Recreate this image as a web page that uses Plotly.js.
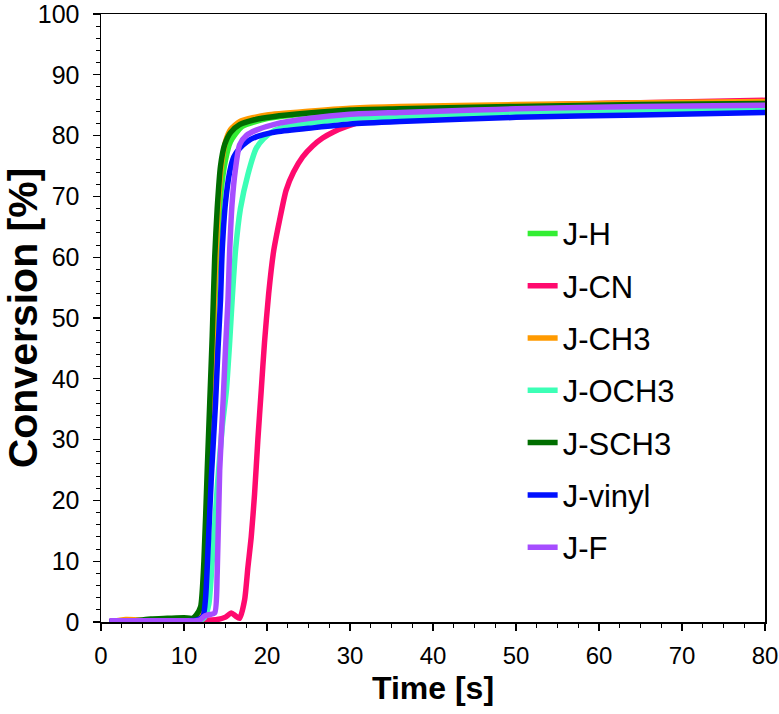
<!DOCTYPE html>
<html>
<head>
<meta charset="utf-8">
<script src="https://cdn.plot.ly/plotly-3.0.1.min.js"></script>
<style>html,body{margin:0;padding:0;background:#fff;}#chart{width:779px;height:714px;}</style>
</head>
<body>
<div id="chart"></div>
<script>
// Series names and colours
const seriesNames = ["J-H", "J-CN", "J-CH3", "J-OCH3", "J-SCH3", "J-vinyl", "J-F"];
const seriesColors = ["#33EE33", "#FF0A6E", "#FF9A00", "#3CFFB6", "#006E00", "#0010FF", "#A64DFF"];

// Time [s] and Conversion [%] for each series
const tH = [1, 4, 8, 11, 11.8, 12.3, 12.8, 13.3, 13.8, 14.4, 15.0, 15.6, 17, 20, 25, 30, 40, 50, 65, 80];
const vH = [0, 0.2, 0.3, 0.4, 1, 3, 15, 35, 55, 70, 76, 79, 81.5, 82.8, 83.6, 84.0, 84.3, 84.6, 84.9, 85.2];

const tCN = [1, 5, 10, 14, 15, 15.7, 16.2, 16.7, 17.3, 17.7, 18.1, 18.5, 18.9, 19.3, 19.7, 20.2, 20.8, 21.5, 22.3, 23.2, 24.3, 25.5, 26.7, 28, 29.6, 32.7, 36, 40, 45, 55, 65, 80];
const vCN = [0, 0.1, 0.2, 0.4, 0.8, 1.5, 1.0, 0.6, 3.6, 9, 14, 21, 30, 38, 46, 54, 61, 66, 71, 74, 76.5, 78.3, 79.6, 80.6, 81.5, 82.8, 83.4, 83.8, 84.3, 85.1, 85.4, 85.8];

const tCH3 = [1, 3, 5, 8, 11, 11.8, 12.2, 12.6, 13.0, 13.3, 13.7, 14.1, 14.5, 15.0, 15.6, 16.7, 18.5, 20, 25, 30, 36, 50, 65, 80];
const vCH3 = [0, 0.4, 0.3, 0.2, 0.3, 1, 2.5, 10, 25, 37, 55, 68, 75, 79, 81, 82.3, 83.0, 83.4, 84.0, 84.5, 84.8, 85.1, 85.4, 85.6];

const tOCH3 = [1, 5, 10, 12.0, 12.5, 13.0, 13.4, 14.0, 14.6, 15.1, 15.5, 15.8, 16.2, 16.8, 17.7, 18.7, 19.6, 20.7, 22.5, 25, 30, 36, 50, 65, 80];
const vOCH3 = [0, 0.1, 0.2, 0.3, 0.8, 3, 10, 22, 32, 38, 46, 53, 61, 68, 73.6, 77.9, 79.5, 80.7, 81.5, 82.0, 82.8, 83.1, 83.6, 84.0, 84.3];

const tSCH3 = [1, 4, 6, 8, 10, 11, 11.5, 12.0, 12.4, 12.8, 13.1, 13.4, 13.7, 14.0, 14.4, 14.9, 15.6, 16.7, 18.5, 20.7, 25, 30, 36, 50, 65, 80];
const vSCH3 = [0, 0.2, 0.5, 0.6, 0.7, 0.6, 1.2, 2.5, 10, 25, 36, 47, 60, 68, 75, 78.5, 80.5, 81.8, 82.6, 83.1, 83.7, 84.2, 84.4, 84.8, 85.1, 85.3];

const tVinyl = [1, 5, 10, 11.5, 12.3, 12.6, 12.9, 13.3, 13.8, 14.1, 14.4, 14.6, 15.0, 15.5, 16.0, 16.7, 17.6, 18.7, 21, 25, 30, 36, 50, 65, 80];
const vVinyl = [0, 0.1, 0.2, 0.3, 1, 4, 12, 24, 36, 45, 53, 61, 69, 74, 76.5, 77.9, 79.0, 79.8, 80.6, 81.2, 81.9, 82.3, 83.0, 83.4, 83.8];

const tF = [1, 5, 10, 11.5, 12.0, 12.5, 13.0, 13.7, 14.0, 14.3, 14.7, 15.0, 15.3, 15.5, 15.8, 16.2, 16.7, 17.5, 18.7, 21, 25, 30, 36, 45, 50, 65, 80];
const vF = [0.2, 0.2, 0.2, 0.2, 0.4, 1.0, 1.2, 1.5, 8, 25, 36, 45, 53, 61, 69, 74.5, 78.5, 80, 80.9, 81.9, 82.8, 83.5, 83.8, 84.2, 84.4, 84.8, 85.0];

const xs = [tH, tCN, tCH3, tOCH3, tSCH3, tVinyl, tF];
const ys = [vH, vCN, vCH3, vOCH3, vSCH3, vVinyl, vF];

const traces = seriesNames.map((n, i) => ({
  type: 'scatter', mode: 'lines', name: n, x: xs[i], y: ys[i],
  legendgroup: n,
  line: {color: seriesColors[i], width: 5.5, shape: 'spline', smoothing: 0.6}
}));

const yTickFont = {family: 'Liberation Sans, Arial, sans-serif', size: 25, color: '#000'};
const xTickFont = {family: 'Liberation Sans, Arial, sans-serif', size: 24, color: '#000'};
const titleFont = {family: 'Liberation Sans, Arial, sans-serif', size: 32, color: '#000', weight: 'bold'};

const layout = {
  width: 779, height: 714,
  margin: {l: 101, r: 14, t: 14, b: 92},
  paper_bgcolor: '#fff', plot_bgcolor: '#fff',
  showlegend: true,
  legend: {x: 0.635, y: 0.683, xanchor: 'left', yanchor: 'top', bgcolor: 'rgba(0,0,0,0)',
           font: {family: 'Liberation Sans, Arial, sans-serif', size: 31, color: '#000'},
           traceorder: 'grouped', tracegroupgap: 9},
  xaxis: {range: [0, 80], dtick: 10, tick0: 0, showgrid: false, zeroline: false,
          showline: true, linecolor: '#000', linewidth: 1.5, mirror: true,
          ticks: 'outside', ticklen: 7, tickwidth: 1.2, tickcolor: '#000',
          minor: {dtick: 2.5, ticks: 'outside', ticklen: 4, tickwidth: 1, tickcolor: '#000', showgrid: false},
          tickfont: xTickFont, ticklabeloverflow: 'allow', ticklabelstandoff: 5,
          title: {text: 'Time [s]', font: titleFont, standoff: 8}},
  yaxis: {range: [0, 100], dtick: 10, tick0: 0, showgrid: false, zeroline: false,
          showline: true, linecolor: '#000', linewidth: 1.5, mirror: true,
          ticks: 'outside', ticklen: 7, tickwidth: 1.2, tickcolor: '#000',
          minor: {dtick: 2, ticks: 'outside', ticklen: 4, tickwidth: 1, tickcolor: '#000', showgrid: false},
          tickfont: yTickFont, ticklabeloverflow: 'allow', ticklabelstandoff: 8,
          title: {text: 'Conversion [%]', font: {family: 'Liberation Sans, Arial, sans-serif', size: 41, color: '#000', weight: 'bold'}, standoff: 2}}
};

Plotly.newPlot('chart', traces, layout, {displayModeBar: false, staticPlot: true});
</script>
</body>
</html>
